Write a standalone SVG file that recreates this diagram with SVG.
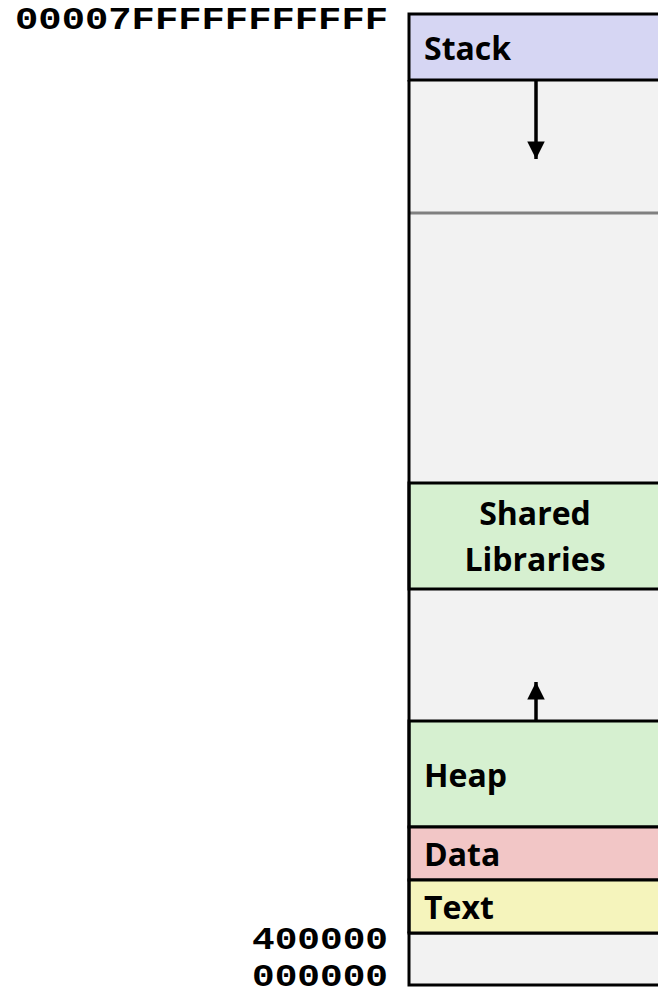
<svg xmlns="http://www.w3.org/2000/svg" width="658" height="994" viewBox="0 0 658 994">
<style>
.lbl{font-family:"Open Sans","Noto Sans",sans-serif;font-weight:bold;font-size:32px;fill:#000}
.addr{font-family:"Liberation Mono","DejaVu Sans Mono",monospace;font-weight:bold;font-size:32px;fill:#000}
.seg{stroke:#000;stroke-width:3}
</style>
<defs>
<marker id="ah" viewBox="0 0 10 10" refX="10" refY="5" markerWidth="5.5" markerHeight="5" orient="auto" markerUnits="strokeWidth">
<path d="M0,0 L10,5 L0,10 z" fill="#000"/>
</marker>
</defs>
<rect width="658" height="994" fill="#fff"/>
<g id="addresses">
<text class="addr" x="388" y="29" text-anchor="end" textLength="373" lengthAdjust="spacingAndGlyphs">00007FFFFFFFFFFF</text>
<text class="addr" x="388" y="949" text-anchor="end" textLength="136" lengthAdjust="spacingAndGlyphs">400000</text>
<text class="addr" x="388" y="986" text-anchor="end" textLength="136" lengthAdjust="spacingAndGlyphs">000000</text>
</g>
<g id="free-top"><rect x="409" y="80" width="260" height="403" fill="#f2f2f2"/></g>
<g id="free-mid"><rect x="409" y="589" width="260" height="132" fill="#f2f2f2"/></g>
<g id="free-bottom"><rect class="seg" x="409" y="933" width="260" height="52" fill="#f2f2f2"/></g>
<g id="stack"><rect class="seg" x="409" y="14" width="260" height="66" fill="#d6d6f3"/><text class="lbl" x="424" y="60">Stack</text></g>
<g id="shared"><rect class="seg" x="409" y="483" width="260" height="106" fill="#d6f0d0"/><text class="lbl" x="535" y="525" text-anchor="middle">Shared</text><text class="lbl" x="535" y="571" text-anchor="middle">Libraries</text></g>
<g id="heap"><rect class="seg" x="409" y="721" width="260" height="106" fill="#d6f0d0"/><text class="lbl" x="424" y="787">Heap</text></g>
<g id="data"><rect class="seg" x="409" y="827" width="260" height="53" fill="#f2c6c6"/><text class="lbl" x="424" y="866">Data</text></g>
<g id="text"><rect class="seg" x="409" y="880" width="260" height="53" fill="#f5f4bc"/><text class="lbl" x="424" y="919">Text</text></g>
<g id="connectors">
<line x1="409" y1="213" x2="660" y2="213" stroke="#808080" stroke-width="3"/>
<line x1="409" y1="80" x2="409" y2="933" stroke="#000" stroke-width="3"/>
<line x1="536" y1="81" x2="536" y2="159" stroke="#000" stroke-width="3.5" marker-end="url(#ah)"/>
<line x1="536" y1="720" x2="536" y2="682" stroke="#000" stroke-width="3.5" marker-end="url(#ah)"/>
</g>
</svg>
